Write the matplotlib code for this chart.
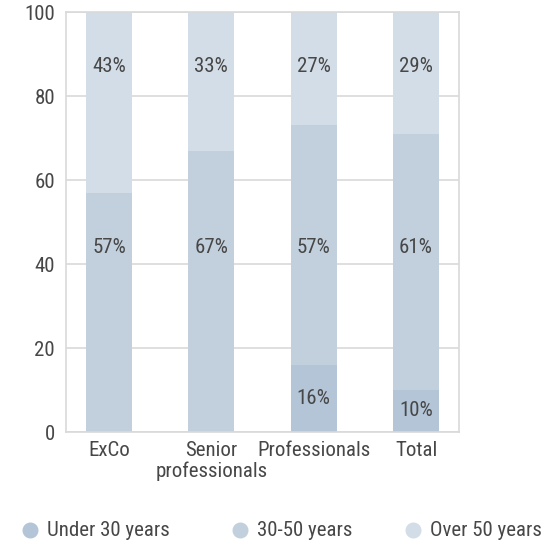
import matplotlib
matplotlib.use("Agg")
import matplotlib.pyplot as plt
from matplotlib.lines import Line2D

categories = ["ExCo", "Senior\nprofessionals", "Professionals", "Total"]
under_30 = [0, 0, 16, 10]
age_30_50 = [57, 67, 57, 61]
over_50 = [43, 33, 27, 29]
series_names = ["Under 30 years", "30-50 years", "Over 50 years"]
colors = ["#b3c5d7", "#c2d0de", "#d3dde7"]
text_color = "#474747"
grid_color = "#d9d9d9"

plt.rcParams["font.family"] = ["Roboto Condensed", "DejaVu Sans"]

W, H = 547, 542
fig = plt.figure(figsize=(W / 100, H / 100), dpi=100)
ax = fig.add_axes([66 / W, 1 - 432 / H, (459 - 66) / W, (432 - 12) / H])

x = list(range(len(categories)))
width = 0.45
b2 = under_30
b3 = [a + b for a, b in zip(under_30, age_30_50)]
ax.bar(x, under_30, width, color=colors[0], zorder=2)
ax.bar(x, age_30_50, width, bottom=b2, color=colors[1], zorder=2)
ax.bar(x, over_50, width, bottom=b3, color=colors[2], zorder=2)

fs = 15
for i in x:
    if under_30[i]:
        ax.text(i, under_30[i] / 2, f"{under_30[i]}%", ha="center", va="center",
                fontsize=fs, color=text_color, zorder=3)
    ax.text(i, 44, f"{age_30_50[i]}%", ha="center", va="center",
            fontsize=fs, color=text_color, zorder=3)
    ax.text(i, 87, f"{over_50[i]}%", ha="center", va="center",
            fontsize=fs, color=text_color, zorder=3)

ax.set_xlim(-0.42, 3.42)
ax.set_ylim(0, 100)
ax.set_yticks([0, 20, 40, 60, 80, 100])
ax.set_xticks(x)
ax.set_xticklabels(categories, fontsize=fs, color=text_color, linespacing=1.08)
ax.tick_params(axis="y", labelsize=fs, labelcolor=text_color, length=0, pad=8)
ax.tick_params(axis="x", length=0, pad=6.5)
ax.yaxis.grid(True, color=grid_color, linewidth=1.2, zorder=0)
for s in ax.spines.values():
    s.set_color(grid_color)
    s.set_linewidth(1.2)

# legend row drawn in figure pixels
legend_y = 1 - 530 / H
marker_x = [30, 240, 413]
for mx, name, c in zip(marker_x, series_names, colors):
    fig.add_artist(Line2D([mx / W], [legend_y], marker="o", markersize=10.5,
                          markerfacecolor=c, markeredgecolor=c, linestyle="",
                          transform=fig.transFigure))
    fig.text((mx + 17) / W, legend_y, name, ha="left", va="center",
             fontsize=fs, color=text_color)

fig.savefig("out.png", dpi=100)
